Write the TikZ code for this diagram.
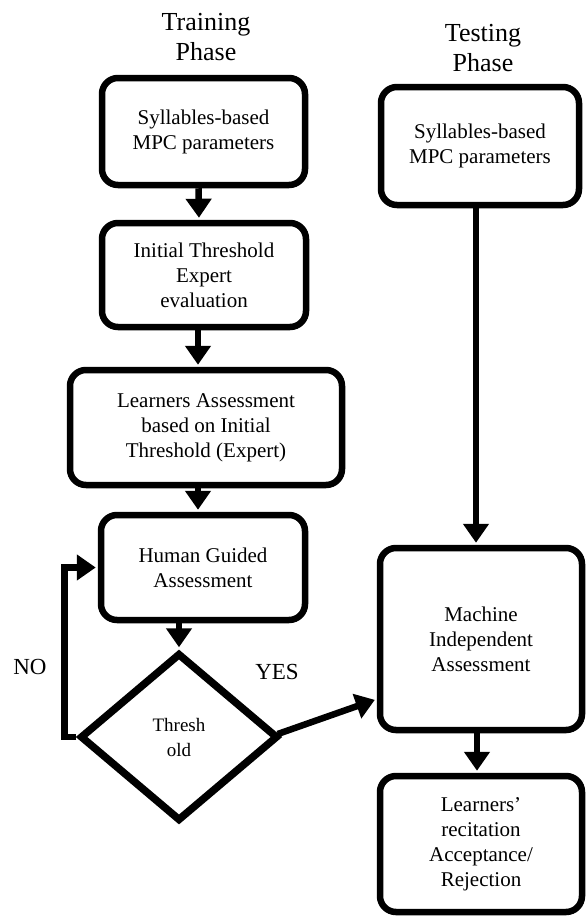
\documentclass[tikz,border=0pt]{standalone}
\usepackage{fontspec}
\setmainfont{Liberation Serif}
\usetikzlibrary{arrows.meta, shapes.geometric}

\begin{document}
\begin{tikzpicture}[x=1pt, y=-1pt,
    box/.style={draw, rounded corners=16pt, line width=6.5pt, align=center,
      inner sep=0pt, font=\fontsize{21}{25}\selectfont},
    decision/.style={draw, diamond, line width=7.5pt, align=center,
      inner sep=0pt, font=\fontsize{19}{25}\selectfont},
    flow/.style={line width=6.5pt, shorten >=2pt, -{Triangle[length=19pt, width=25pt]}},
    phase/.style={align=center, font=\fontsize{26}{30}\selectfont},
    answer/.style={font=\fontsize{23}{28}\selectfont}]
      \useasboundingbox (0,0) rectangle (587,918);

      % Phase titles
      \node[phase] (train) at (206,37) {Training\\Phase};
      \node[phase] (test) at (483,48) {Testing\\Phase};

      % Training column
      \node[box, minimum width=203pt, minimum height=107pt] (tsb) at (203.5,131.5)
        {Syllables-based\\MPC parameters};
      \node[box, minimum width=204pt, minimum height=104pt] (ite) at (204,275)
        {Initial Threshold\\Expert\\evaluation};
      \node[box, minimum width=272pt, minimum height=115pt] (lab) at (206,427.5)
        {Learners Assessment\\based on Initial\\Threshold (Expert)};
      \node[box, minimum width=204pt, minimum height=105pt] (hga) at (203,567.5)
        {Human Guided\\Assessment};
      \node[decision, minimum width=198pt, minimum height=168pt] (thr) at (179,737)
        {Thresh\\old};

      % Testing column
      \node[box, minimum width=198pt, minimum height=118pt] (esb) at (480,146)
        {Syllables-based\\MPC parameters};
      \node[box, minimum width=202pt, minimum height=182pt] (mia) at (481,639)
        {Machine\\Independent\\Assessment};
      \node[box, minimum width=202pt, minimum height=136pt] (lra) at (481,844)
        {Learners'\\recitation\\Acceptance/\\Rejection};

      % Draw flow arrows
      \draw[flow] ([xshift=-5pt]tsb.south) -- ([xshift=-5pt]ite.north);
      \draw[flow] ([xshift=-6pt]ite.south) -- ([xshift=-8pt]lab.north);
      \draw[flow] ([xshift=-8pt]lab.south) -- ([xshift=-5pt]hga.north);
      \draw[flow] (hga.south -| thr.north) -- (thr.north);
      \draw[flow] ([xshift=-4pt]esb.south) -- ([xshift=-5pt]mia.north);
      \draw[flow] ([xshift=-4pt]mia.south) -- ([xshift=-4pt]lra.north);

      % Decision branches
      \draw[flow] (thr.west) -- ++(-12,0) |- (hga.west);
      \draw[flow] ([xshift=-4pt, yshift=3pt]thr.east) -- (mia.210);
      \node[answer] (no) at (30,667) {NO};
      \node[answer] (yes) at (277,672) {YES};

    \end{tikzpicture}
\end{document}
